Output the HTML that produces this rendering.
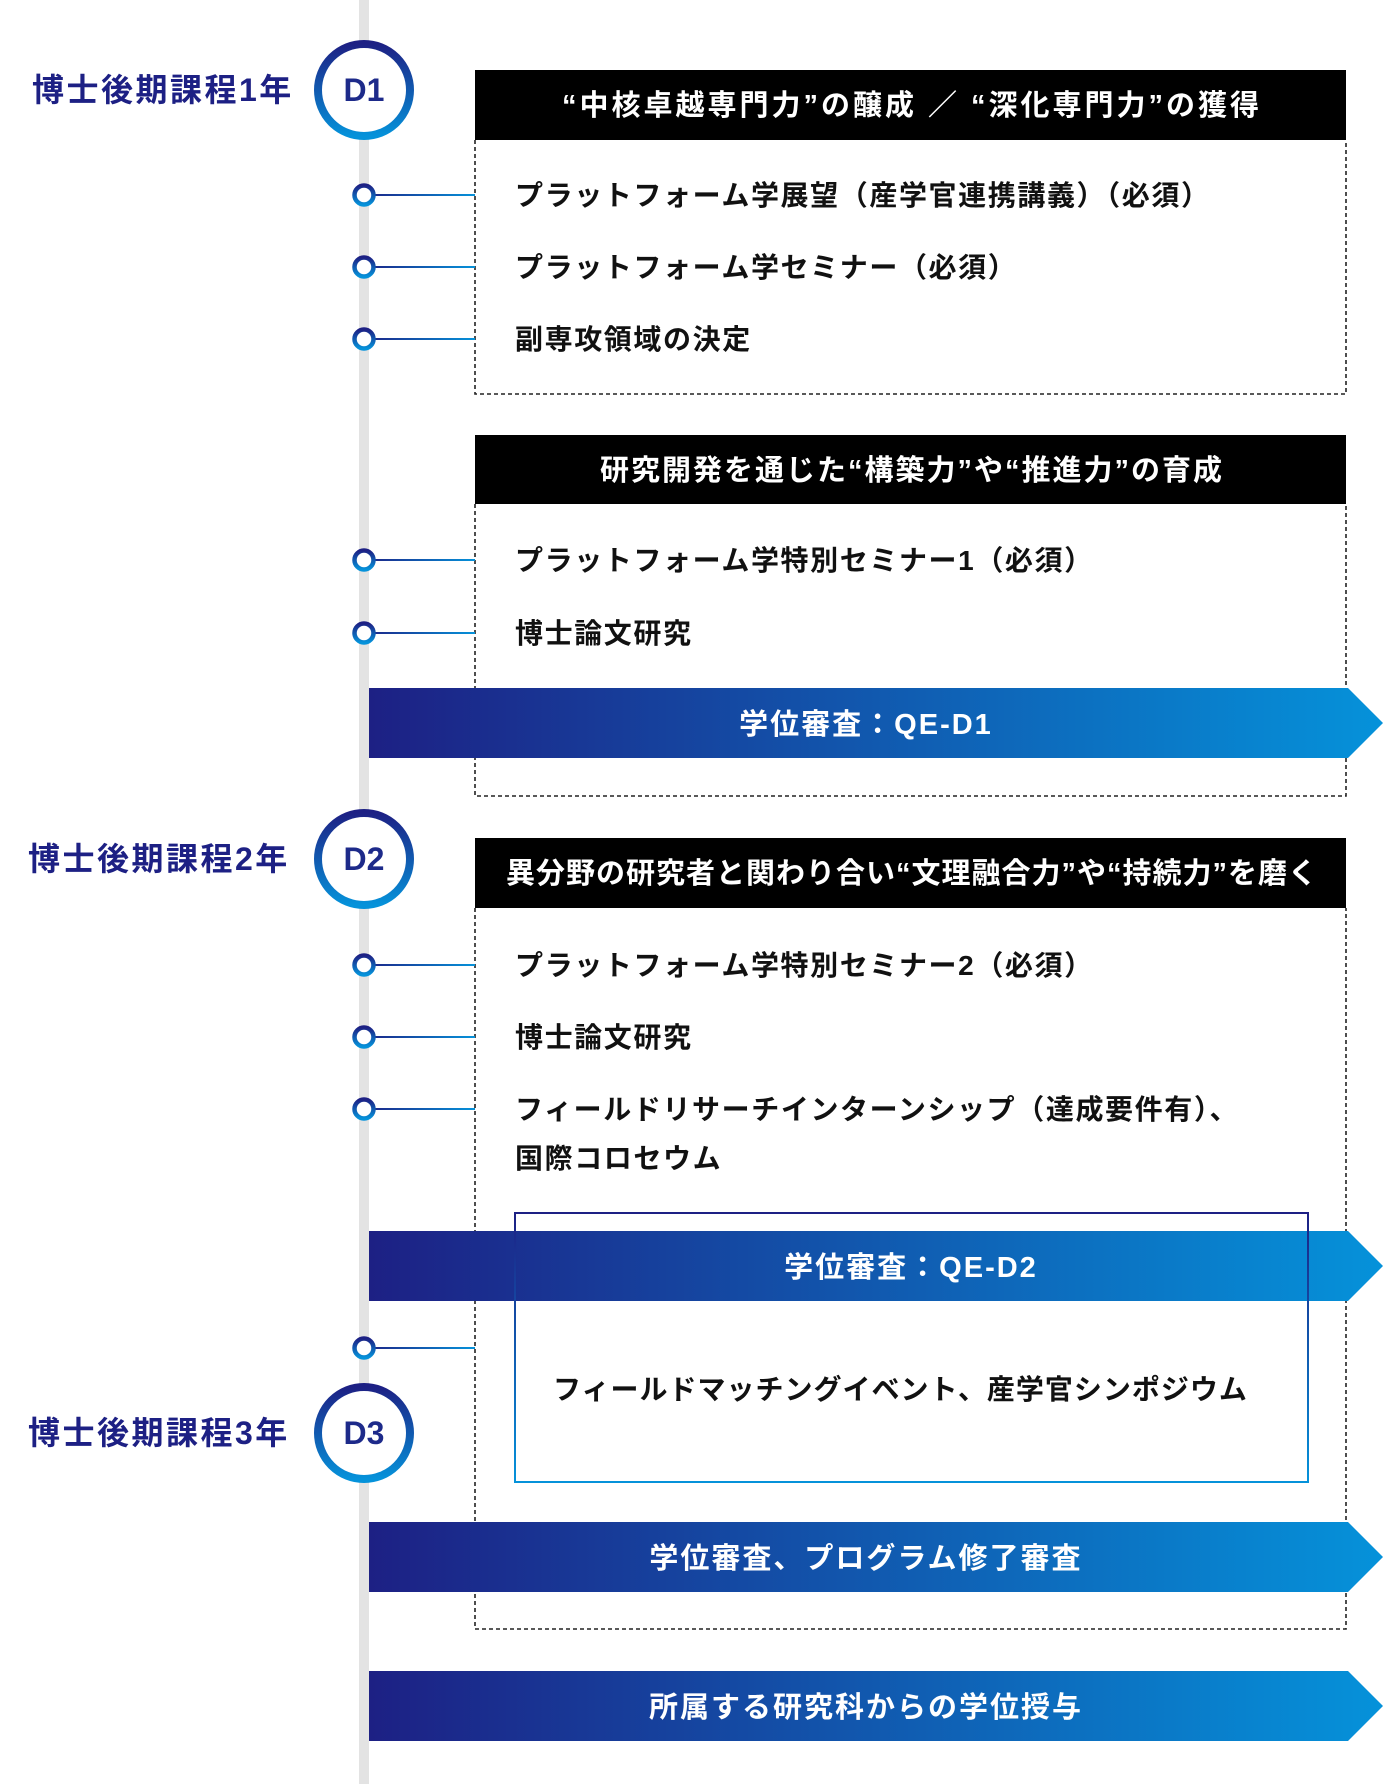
<!DOCTYPE html>
<html><head><meta charset="utf-8"><style>
html,body{margin:0;padding:0;background:#fff;}
svg{display:block;}
text{font-family:"Liberation Sans","Noto Sans CJK JP",sans-serif;font-weight:bold;}
</style></head><body>
<svg width="1400" height="1784" viewBox="0 0 1400 1784" xmlns="http://www.w3.org/2000/svg">
<defs>
<linearGradient id="ar" x1="0" y1="0" x2="1" y2="0">
<stop offset="0" stop-color="#1d2084"/><stop offset="1" stop-color="#0592da"/></linearGradient>
<linearGradient id="cv" x1="0" y1="0" x2="0" y2="1">
<stop offset="0" stop-color="#1d2084"/><stop offset="1" stop-color="#0592da"/></linearGradient>
<linearGradient id="ln" gradientUnits="userSpaceOnUse" x1="364" y1="0" x2="475" y2="0">
<stop offset="0" stop-color="#1d2084"/><stop offset="1" stop-color="#0592da"/></linearGradient>
</defs>
<rect x="359" y="0" width="10" height="1784" fill="#e3e3e3"/>
<g fill="none" stroke="#222" stroke-width="1.6" stroke-dasharray="4 3">
<path d="M475 140 V394 H1346 V140"/>
<path d="M475 504 V796 H1346 V504"/>
<path d="M475 908 V1629 H1346 V908"/>
</g>
<rect x="475" y="70" width="871" height="70" fill="#000"/>
<text x="912" y="115" font-size="29" fill="#fff" text-anchor="middle" letter-spacing="3">“中核卓越専門力”の醸成 ／ “深化専門力”の獲得</text>
<rect x="475" y="435" width="871" height="69" fill="#000"/>
<text x="912" y="480" font-size="29" fill="#fff" text-anchor="middle" letter-spacing="2">研究開発を通じた“構築力”や“推進力”の育成</text>
<rect x="475" y="838" width="871" height="70" fill="#000"/>
<text x="912" y="883" font-size="29" fill="#fff" text-anchor="middle" letter-spacing="1">異分野の研究者と関わり合い“文理融合力”や“持続力”を磨く</text>
<g stroke="url(#ln)" stroke-width="2">
<line x1="364" y1="195" x2="475" y2="195"/><line x1="364" y1="267" x2="475" y2="267"/><line x1="364" y1="339" x2="475" y2="339"/>
<line x1="364" y1="560" x2="475" y2="560"/><line x1="364" y1="633" x2="475" y2="633"/>
<line x1="364" y1="965" x2="475" y2="965"/><line x1="364" y1="1037" x2="475" y2="1037"/><line x1="364" y1="1109" x2="475" y2="1109"/>
<line x1="364" y1="1348" x2="475" y2="1348"/>
</g>
<g fill="#fff" stroke="url(#cv)" stroke-width="4.5">
<circle cx="364" cy="195" r="9.5"/><circle cx="364" cy="267" r="9.5"/><circle cx="364" cy="339" r="9.5"/>
<circle cx="364" cy="560" r="9.5"/><circle cx="364" cy="633" r="9.5"/>
<circle cx="364" cy="965" r="9.5"/><circle cx="364" cy="1037" r="9.5"/><circle cx="364" cy="1109" r="9.5"/>
<circle cx="364" cy="1348" r="9.5"/>
</g>
<g fill="#fff" stroke="url(#cv)" stroke-width="8">
<circle cx="364" cy="90" r="46"/><circle cx="364" cy="859" r="46"/><circle cx="364" cy="1433" r="46"/>
</g>
<g fill="#1d2a8a" font-size="32" text-anchor="middle">
<text x="364" y="101">D1</text><text x="364" y="870">D2</text><text x="364" y="1444">D3</text>
</g>
<g fill="#1d2084" font-size="32" letter-spacing="2.5">
<text x="32" y="101">博士後期課程1年</text><text x="28" y="870">博士後期課程2年</text><text x="28" y="1444">博士後期課程3年</text>
</g>
<g fill="#111" font-size="28" letter-spacing="1.6">
<text x="515" y="205">プラットフォーム学展望（産学官連携講義）（必須）</text>
<text x="515" y="277">プラットフォーム学セミナー（必須）</text>
<text x="515" y="349">副専攻領域の決定</text>
<text x="515" y="570">プラットフォーム学特別セミナー1（必須）</text>
<text x="515" y="643">博士論文研究</text>
<text x="515" y="975">プラットフォーム学特別セミナー2（必須）</text>
<text x="515" y="1047">博士論文研究</text>
<text x="515" y="1119">フィールドリサーチインターンシップ（達成要件有）、</text>
<text x="515" y="1168">国際コロセウム</text>
</g>
<g fill="url(#ar)">
<path d="M369 688 H1348 L1383 723 L1348 758 H369 Z"/>
<path d="M369 1231 H1348 L1383 1266 L1348 1301 H369 Z"/>
<path d="M369 1522 H1348 L1383 1557 L1348 1592 H369 Z"/>
<path d="M369 1671 H1348 L1383 1706 L1348 1741 H369 Z"/>
</g>
<rect x="515" y="1213" width="793" height="269" fill="none" stroke="url(#cv)" stroke-width="2"/>
<text x="553" y="1399" font-size="28" fill="#111" letter-spacing="1">フィールドマッチングイベント、産学官シンポジウム</text>
<g fill="#fff" font-size="29" text-anchor="middle" letter-spacing="2">
<text x="866" y="734">学位審査：QE-D1</text>
<text x="911" y="1277">学位審査：QE-D2</text>
<text x="866" y="1568">学位審査、プログラム修了審査</text>
<text x="866" y="1717">所属する研究科からの学位授与</text>
</g>
</svg>
</body></html>
